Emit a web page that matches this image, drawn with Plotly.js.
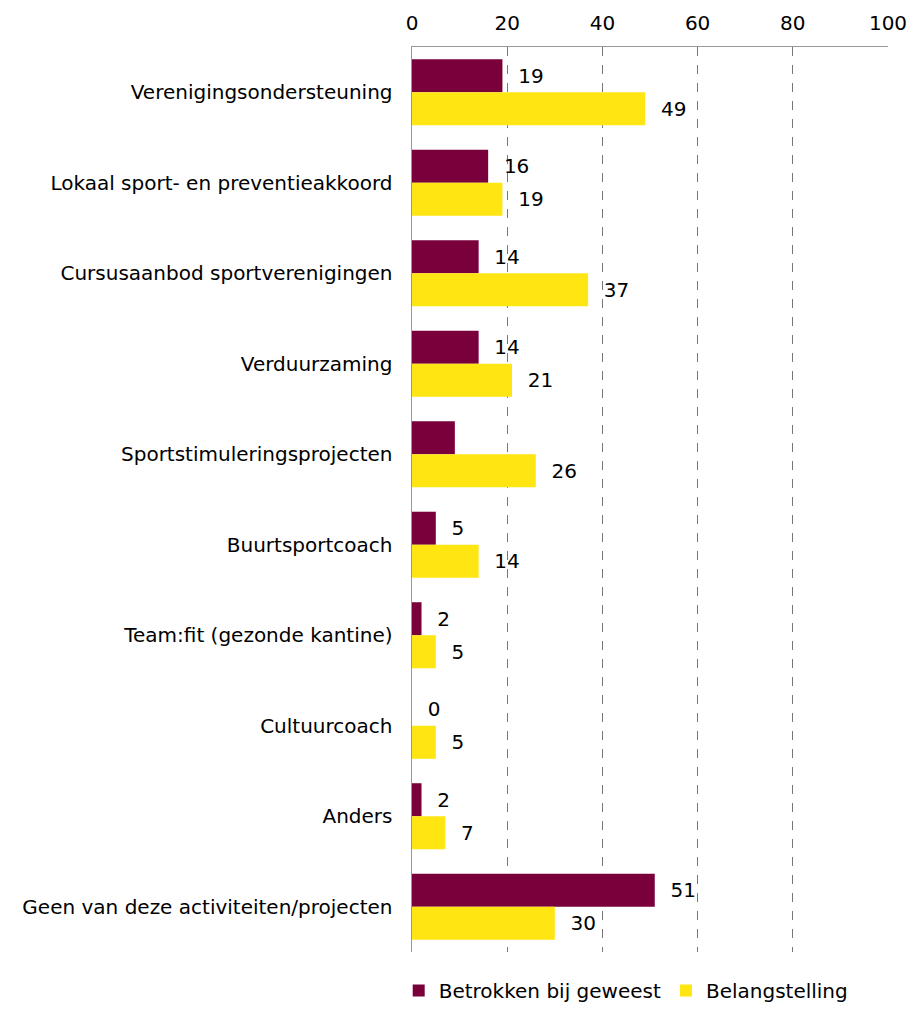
<!DOCTYPE html>
<html><head><meta charset="utf-8">
<script src="https://cdn.plot.ly/plotly-3.0.1.min.js"></script>
<style>html,body{margin:0;padding:0;background:#fff}</style>
</head><body>
<div id="chart" style="width:913px;height:1010px"></div>
<script>
const categories = [
  "Verenigingsondersteuning",
  "Lokaal sport- en preventieakkoord",
  "Cursusaanbod sportverenigingen",
  "Verduurzaming",
  "Sportstimuleringsprojecten",
  "Buurtsportcoach",
  "Team:fit (gezonde kantine)",
  "Cultuurcoach",
  "Anders",
  "Geen van deze activiteiten/projecten"
];
const betrokken = [19, 16, 14, 14, 9, 5, 2, 0, 2, 51];
const betrokkenLabels = ["19", "16", "14", "14", "", "5", "2", "0", "2", "51"];
const belangstelling = [49, 19, 37, 21, 26, 14, 5, 5, 7, 30];
const belangLabels = ["49", "19", "37", "21", "26", "14", "5", "5", "7", "30"];
const xTicks = [0, 20, 40, 60, 80, 100];

const font = "DejaVu Sans, Verdana, sans-serif";
const FS = 20;
const pad = s => s === "" ? "" : "  " + s;

const traces = [
  {
    type: "bar", orientation: "h", name: "Betrokken bij geweest",
    y: categories, x: betrokken,
    text: betrokkenLabels.map(pad), textposition: "outside",
    textfont: {size: FS, color: "#000", family: font},
    marker: {color: "#7a003c"}, cliponaxis: false
  },
  {
    type: "bar", orientation: "h", name: "Belangstelling",
    y: categories, x: belangstelling,
    text: belangLabels.map(pad), textposition: "outside",
    textfont: {size: FS, color: "#000", family: font},
    marker: {color: "#ffe512"}, cliponaxis: false
  }
];

const layout = {
  width: 913, height: 1010,
  margin: {l: 412, r: 25, t: 47, b: 58},
  paper_bgcolor: "#fff", plot_bgcolor: "#fff",
  font: {family: font, size: FS, color: "#000"},
  barmode: "group", bargap: 0.27, bargroupgap: 0,
  showlegend: true,
  legend: {orientation: "h", x: 0.45, xanchor: "center", yref: "container", y: 0.0, yanchor: "bottom",
           font: {size: FS, family: font}, itemwidth: 30, traceorder: "normal"},
  xaxis: {
    side: "top", range: [0, 100], tickvals: xTicks, ticktext: xTicks.map(String),
    showgrid: true, gridcolor: "#777", griddash: "dash", gridwidth: 1,
    showline: true, linecolor: "#999", linewidth: 1.5, mirror: false,
    zeroline: false, ticks: "", tickfont: {size: FS}, ticklabelstandoff: 8, fixedrange: true
  },
  yaxis: {
    autorange: "reversed", type: "category",
    showline: true, linecolor: "#999", linewidth: 1.5,
    showgrid: false, zeroline: false, ticks: "", ticklen: 0,
    tickfont: {size: FS}, ticklabelstandoff: 14, automargin: false
  }
};

Plotly.newPlot("chart", traces, layout, {staticPlot: true});
</script>
</body></html>
